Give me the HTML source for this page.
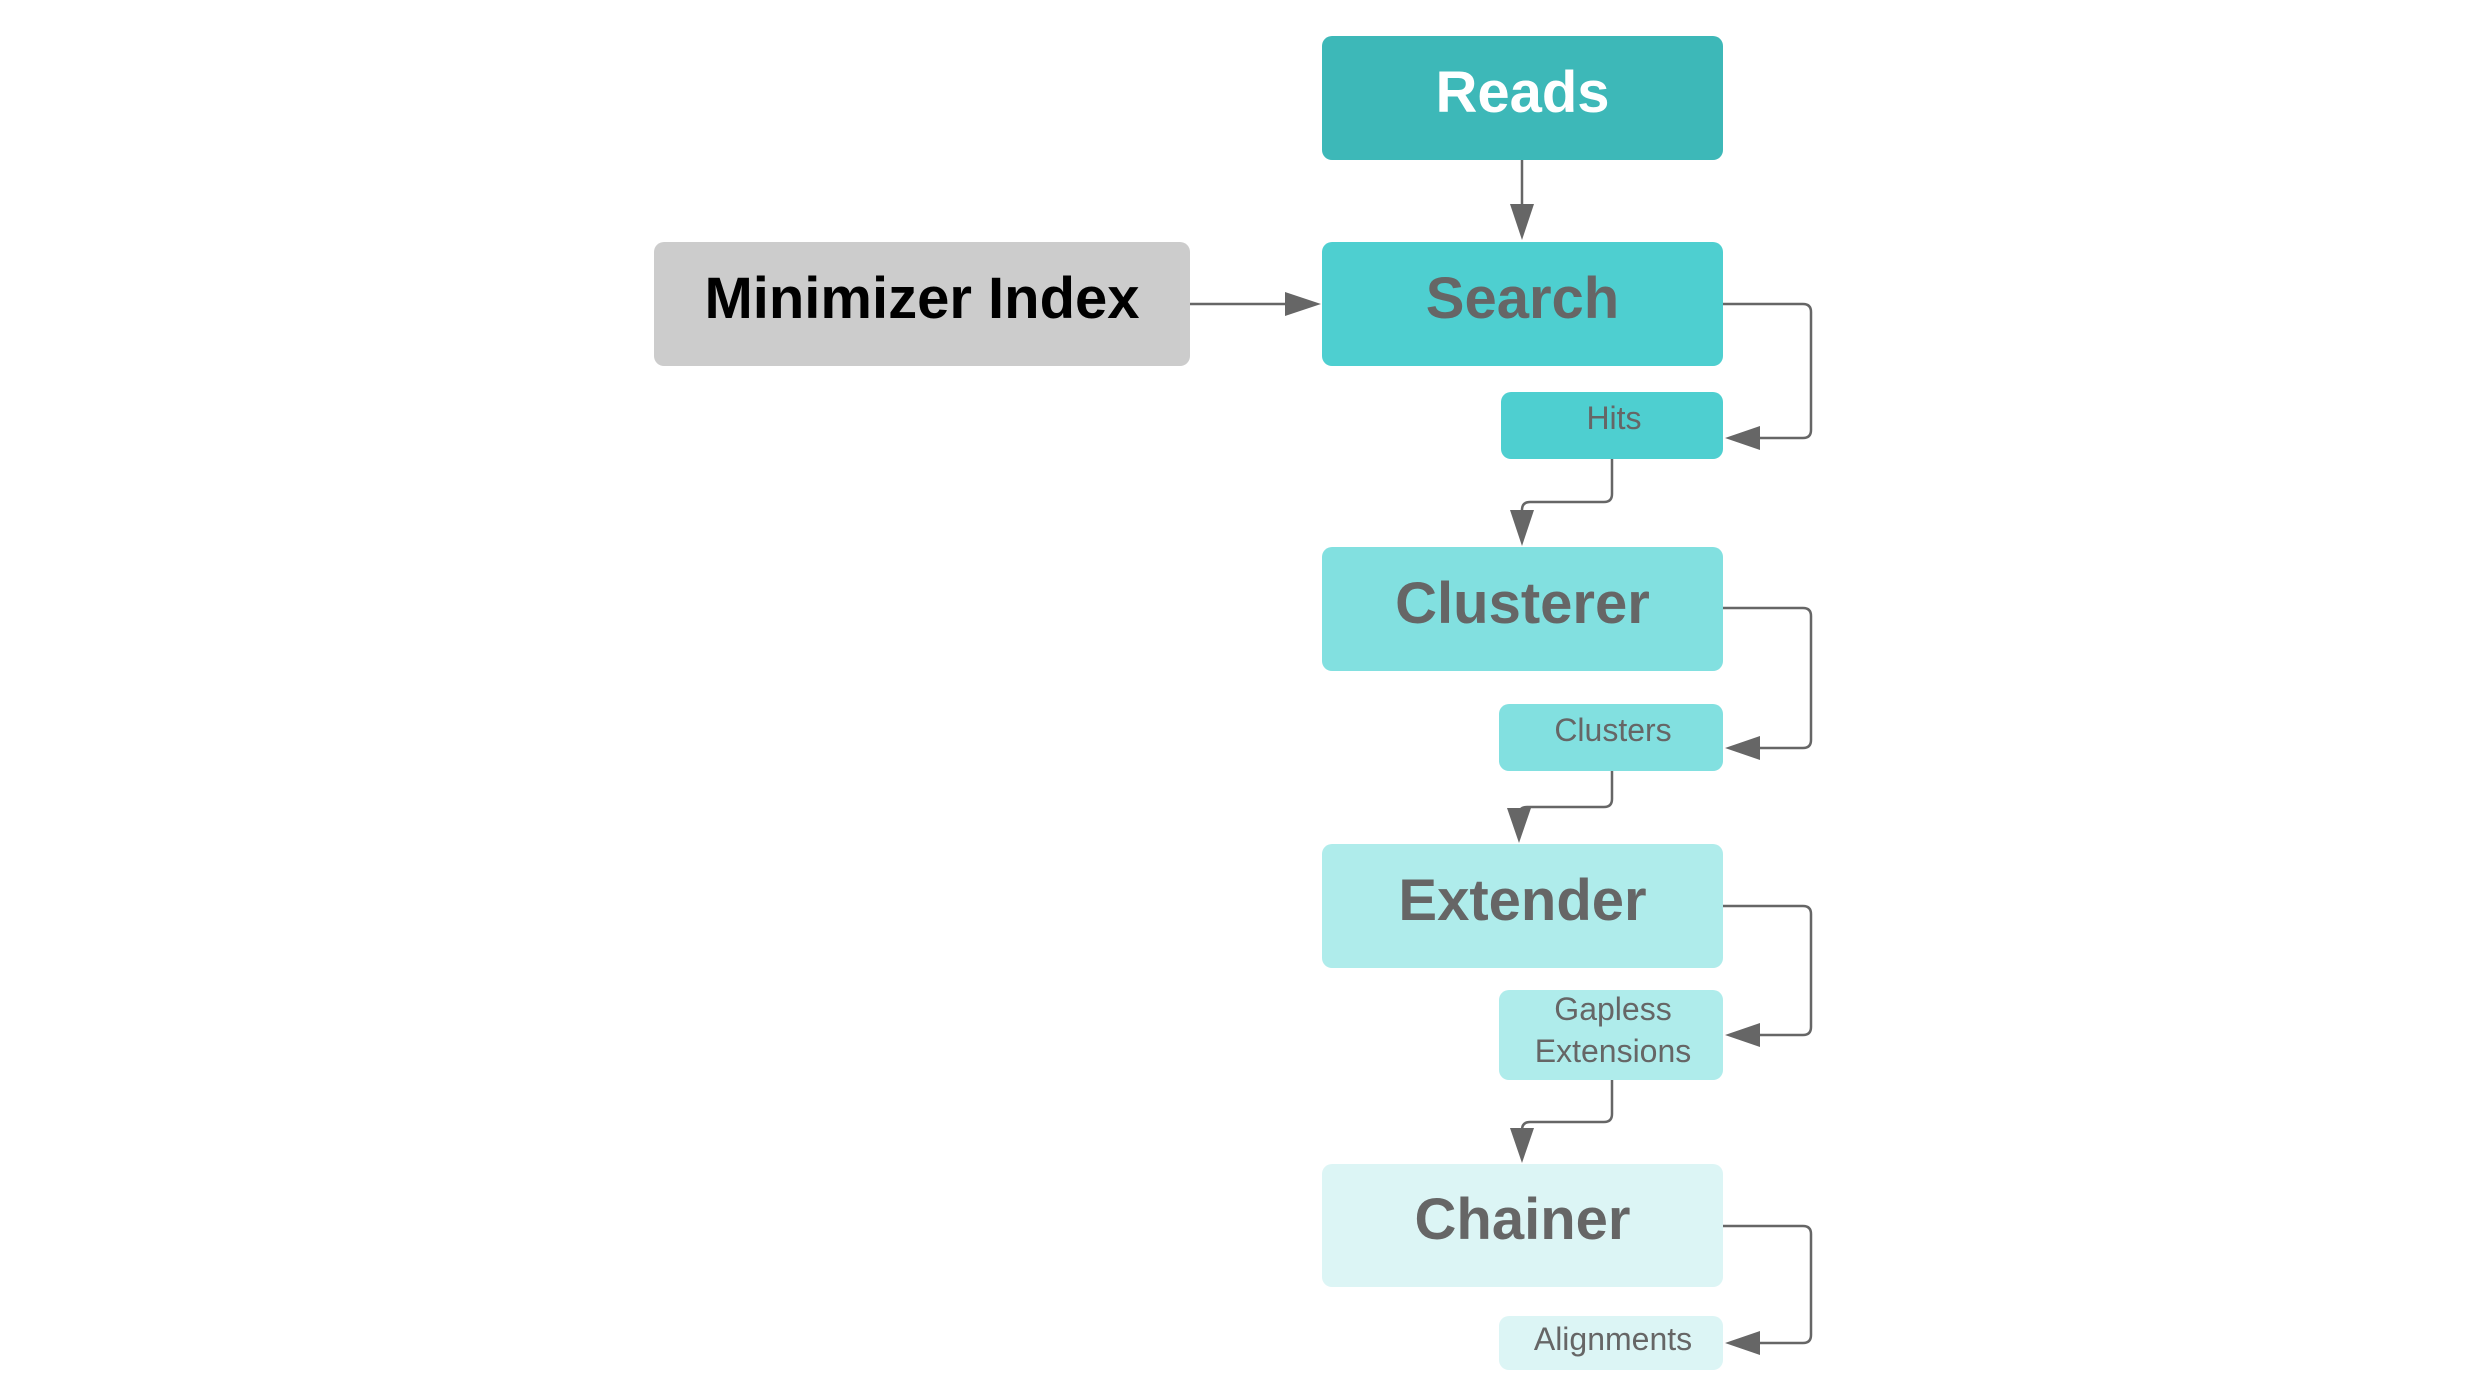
<!DOCTYPE html>
<html><head><style>
html,body{margin:0;padding:0;background:#fff;}
body{width:2474px;height:1388px;position:relative;overflow:hidden;font-family:"Liberation Sans",sans-serif;}
.b{position:absolute;border-radius:10px;display:flex;align-items:center;justify-content:center;font-weight:bold;color:#666;box-sizing:border-box;padding-bottom:12px;font-size:58px;}
.s{position:absolute;border-radius:10px;display:flex;align-items:center;justify-content:center;color:#666;font-size:32px;text-align:center;line-height:1.3;padding-left:4px;}
svg{position:absolute;left:0;top:0;}
</style></head><body>
<div class="b" style="left:1322px;top:36px;width:401px;height:124px;background:#3db8b8;color:#fff;">Reads</div>
<div class="b" style="left:654px;top:242px;width:536px;height:124px;background:#cccccc;color:#000;">Minimizer Index</div>
<div class="b" style="left:1322px;top:242px;width:401px;height:124px;background:#4ecfd0;">Search</div>
<div class="s" style="left:1501px;top:392px;width:222px;height:67px;background:#4ecfd0;padding-bottom:14px;box-sizing:border-box;">Hits</div>
<div class="b" style="left:1322px;top:547px;width:401px;height:124px;background:#82e0e0;">Clusterer</div>
<div class="s" style="left:1499px;top:704px;width:224px;height:67px;background:#82e0e0;padding-bottom:14px;box-sizing:border-box;">Clusters</div>
<div class="b" style="left:1322px;top:844px;width:401px;height:124px;background:#afeceb;">Extender</div>
<div class="s" style="left:1499px;top:990px;width:224px;height:90px;background:#afeceb;padding-bottom:8px;box-sizing:border-box;">Gapless<br>Extensions</div>
<div class="b" style="left:1322px;top:1164px;width:401px;height:123px;background:#dcf5f5;">Chainer</div>
<div class="s" style="left:1499px;top:1316px;width:224px;height:54px;background:#dcf5f5;padding-bottom:6px;box-sizing:border-box;">Alignments</div>
<svg width="2474" height="1388" viewBox="0 0 2474 1388">
<g fill="none" stroke="#666" stroke-width="2.5">
<path d="M1522 160V222"/>
<path d="M1190 304H1300"/>
<path d="M1723 304H1803q8 0 8 8V430q0 8-8 8H1745"/>
<path d="M1612 459V494q0 8-8 8H1530q-8 0-8 8V527"/>
<path d="M1723 608H1803q8 0 8 8V740q0 8-8 8H1745"/>
<path d="M1612 771V799q0 8-8 8H1527q-8 0-8 8V824"/>
<path d="M1723 906H1803q8 0 8 8V1027q0 8-8 8H1745"/>
<path d="M1612 1080V1114q0 8-8 8H1530q-8 0-8 8V1144"/>
<path d="M1723 1226H1803q8 0 8 8V1335q0 8-8 8H1745"/>
</g>
<g fill="#666">
<polygon points="1510,204 1534,204 1522,240"/>
<polygon points="1285,292 1285,316 1321,304"/>
<polygon points="1760,426 1760,450 1725,438"/>
<polygon points="1510,510 1534,510 1522,546"/>
<polygon points="1760,736 1760,760 1725,748"/>
<polygon points="1507,808 1531,808 1519,843"/>
<polygon points="1760,1023 1760,1047 1725,1035"/>
<polygon points="1510,1128 1534,1128 1522,1163"/>
<polygon points="1760,1331 1760,1355 1725,1343"/>
</g>
</svg>
</body></html>
